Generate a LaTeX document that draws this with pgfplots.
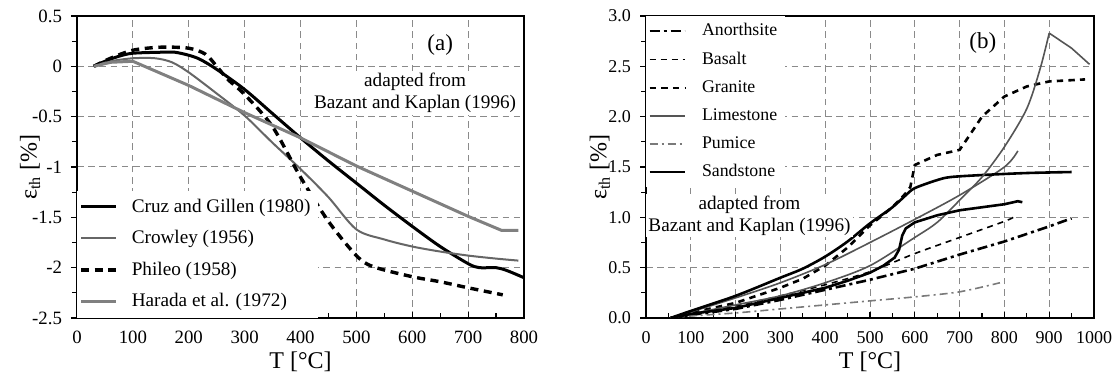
\documentclass[border=0pt]{standalone}
\usepackage{fontspec}
\setmainfont{Liberation Serif}
\usepackage{pgfplots}
\pgfplotsset{compat=1.18}
\definecolor{gridgray}{HTML}{8A8A8A}
\definecolor{crowgray}{HTML}{666666}
\definecolor{haragray}{HTML}{808080}
\definecolor{limegray}{HTML}{555555}
\definecolor{pumgray}{HTML}{7A7A7A}
\pgfplotsset{
  myax/.style={
    scale only axis,
    axis line style={line width=0.8pt},
    grid=major,
    major grid style={draw=gridgray, line width=0.5pt, dash pattern=on 3.3pt off 2.3pt},
    xtick pos=bottom, ytick pos=left,
    xtick align=inside, ytick align=outside,
    major tick length=3pt, minor tick length=2.5pt,
    tick style={line width=0.6pt, black},
    minor x tick num=1, minor y tick num=1,
    xlabel style={at={(axis description cs:0.5,-0.146)}, anchor=center, font=\fontsize{12}{13}\selectfont},
    xticklabel style={yshift=-3pt},
    yticklabel style={xshift=-1pt},
    legend image code/.code={\draw[##1] (0pt,0pt) -- (17.5pt,0pt);},
    legend cell align=left,
  }
}
\begin{document}
\begin{tikzpicture}
\path[use as bounding box] (0,0) rectangle (559.5pt,189pt);
% ---------------- panel (a)
\begin{axis}[myax,
  at={(38.5pt,30pt)}, anchor=south west,
  width=223.5pt, height=151pt,
  xmin=0, xmax=800, ymin=-2.5, ymax=0.5,
  xtick={0,100,...,800},
  xticklabels={0,100,200,300,400,500,600,700,800},
  ytick={-2.5,-2,-1.5,-1,-0.5,0,0.5},
  yticklabels={-2.5,-2,-1.5,-1,-0.5,0,0.5},
  ticklabel style={font=\fontsize{9.4}{11}\selectfont},
  xlabel={T [°C]},
  ylabel={ε\textsubscript{th} [\%]},
  ylabel style={at={(axis description cs:-0.105,0.5)}, anchor=center, font=\fontsize{12}{13}\selectfont},
  legend style={at={(0,0)}, anchor=south west, draw=none, fill=white,
    font=\fontsize{9.6}{11}\selectfont, row sep=3.6pt, inner xsep=1pt, inner ysep=2pt,
    nodes={inner xsep=3pt},
    /tikz/every odd column/.append style={column sep=4pt}},
]
\addplot[black, line width=1.5pt, smooth] coordinates {
(30,0) (50,0.05) (75,0.1) (100,0.13) (150,0.14) (175,0.14) (200,0.11) (220,0.07)
(250,-0.03) (300,-0.23) (350,-0.47) (400,-0.71) (450,-0.94) (500,-1.16) (550,-1.38)
(600,-1.59) (650,-1.79) (700,-1.96) (720,-2.0) (750,-2.0) (770,-2.03) (800,-2.1)};
\addlegendentry{Cruz and Gillen (1980)}
\addplot[crowgray, line width=1pt, smooth] coordinates {
(30,0) (60,0.05) (100,0.08) (140,0.08) (170,0.04) (200,-0.06) (250,-0.27) (300,-0.49)
(350,-0.76) (400,-1.02) (450,-1.3) (500,-1.62) (550,-1.72) (600,-1.79) (650,-1.84)
(700,-1.88) (750,-1.91) (790,-1.93)};
\addlegendentry{Crowley (1956)}
\addplot[black, line width=1.7pt, dash pattern=on 4pt off 2.8pt, smooth] coordinates {
(30,0) (60,0.08) (100,0.16) (150,0.19) (200,0.18) (230,0.12) (250,0.0) (270,-0.13)
(300,-0.28) (350,-0.6) (400,-1.1) (450,-1.54) (500,-1.88) (530,-1.99) (600,-2.09)
(650,-2.14) (700,-2.2) (762,-2.27)};
\addlegendentry{Phileo (1958)}
\addplot[haragray, line width=1.5pt] coordinates {
(30,0) (60,0.04) (100,0.05) (150,-0.07) (200,-0.19) (300,-0.46) (400,-0.71) (500,-0.99)
(600,-1.24) (700,-1.49) (760,-1.63) (790,-1.63)};
\addlegendentry{Harada et al. (1972)}
\node[font=\fontsize{11.5}{13}\selectfont] at (axis cs:650,0.21) {(a)};
\node[fill=white, align=center, inner sep=1pt, font=\fontsize{9.6}{11}\selectfont] at (axis cs:605,-0.265)
  {adapted from\\Bazant and Kaplan (1996)};
\end{axis}
% ---------------- panel (b)
\begin{axis}[myax,
  at={(323pt,30pt)}, anchor=south west,
  width=224pt, height=151pt,
  xmin=0, xmax=1000, ymin=0, ymax=3,
  xtick={0,100,...,1000},
  xticklabels={0,100,200,300,400,500,600,700,800,900,1000},
  ytick={0,0.5,...,3},
  yticklabels={0.0,0.5,1.0,1.5,2.0,2.5,3.0},
  ticklabel style={font=\fontsize{9}{11}\selectfont},
  xlabel={T [°C]},
  ylabel={ε\textsubscript{th} [\%]},
  ylabel style={at={(axis description cs:-0.103,0.5)}, anchor=center, font=\fontsize{12}{13}\selectfont},
  legend style={at={(0,1)}, anchor=north west, draw=none, fill=white,
    font=\fontsize{8.9}{10}\selectfont, row sep=2.6pt, inner xsep=1pt, inner ysep=1.5pt,
    nodes={inner xsep=3pt},
    /tikz/every odd column/.append style={column sep=5pt}},
]
\addplot[black, line width=1.3pt, dash pattern=on 5pt off 2pt on 1.5pt off 2pt] coordinates {
(55,0) (100,0.03) (200,0.09) (300,0.18) (400,0.28) (500,0.38) (600,0.49) (700,0.63)
(800,0.76) (900,0.91) (950,0.99)};
\addlegendentry{Anorthsite}
\addplot[black, line width=0.8pt, dash pattern=on 3pt off 2.5pt, smooth] coordinates {
(55,0) (100,0.04) (200,0.12) (300,0.22) (400,0.33) (500,0.46) (600,0.64) (700,0.8)
(800,0.96) (820,1.0)};
\addlegendentry{Basalt}
\addplot[black, line width=1.3pt, dash pattern=on 3.2pt off 2.6pt] coordinates {
(55,0) (100,0.05) (200,0.15) (300,0.3) (350,0.39) (400,0.52) (450,0.7) (500,0.92)
(550,1.1) (580,1.24) (590,1.3) (600,1.52) (650,1.62) (700,1.67) (720,1.8) (750,2.0)
(800,2.2) (850,2.3) (900,2.35) (980,2.37)};
\addlegendentry{Granite}
\addplot[limegray, line width=0.8pt, smooth] coordinates {
(55,0) (100,0.06) (200,0.2) (300,0.35) (400,0.53) (500,0.75) (600,0.98) (700,1.22)
(800,1.5) (830,1.66)};
\addlegendentry{Limestone}
\addplot[pumgray, line width=0.8pt, dash pattern=on 4pt off 2pt on 1pt off 2pt, smooth] coordinates {
(55,0) (100,0.02) (200,0.05) (300,0.09) (400,0.13) (500,0.17) (600,0.21) (700,0.26) (790,0.35)};
\addlegendentry{Pumice}
\addplot[black, line width=1.3pt, smooth] coordinates {
(55,0) (100,0.07) (200,0.22) (300,0.4) (350,0.49) (400,0.61) (450,0.76) (500,0.94)
(550,1.1) (580,1.22) (600,1.29) (650,1.37) (680,1.4) (750,1.42) (850,1.44) (950,1.45)};
\addlegendentry{Sandstone}
% second limestone and sandstone curves
\addplot[limegray, line width=0.8pt, smooth, forget plot] coordinates {
(55,0) (100,0.04) (200,0.13) (300,0.22) (400,0.35) (500,0.52) (600,0.8) (650,0.95)
(700,1.17) (750,1.4) (800,1.7) (850,2.08) (880,2.48) (900,2.83)};
\addplot[limegray, line width=0.8pt, forget plot] coordinates {(900,2.83) (950,2.68) (990,2.52)};
\addplot[black, line width=1.3pt, forget plot] coordinates {
(55,0) (100,0.04) (200,0.1) (300,0.2) (400,0.3) (450,0.37) (500,0.45) (530,0.52) (555,0.6)
(565,0.68) (572,0.82) (580,0.89) (600,0.95) (650,1.02) (700,1.07) (800,1.13) (830,1.16) (840,1.15)};
\node[font=\fontsize{11.5}{13}\selectfont] at (axis cs:752,2.73) {(b)};
\node[fill=white, align=center, inner sep=1pt, font=\fontsize{9.6}{11}\selectfont] at (axis cs:231,1.02)
  {adapted from\\Bazant and Kaplan (1996)};
\end{axis}
\end{tikzpicture}
\end{document}
